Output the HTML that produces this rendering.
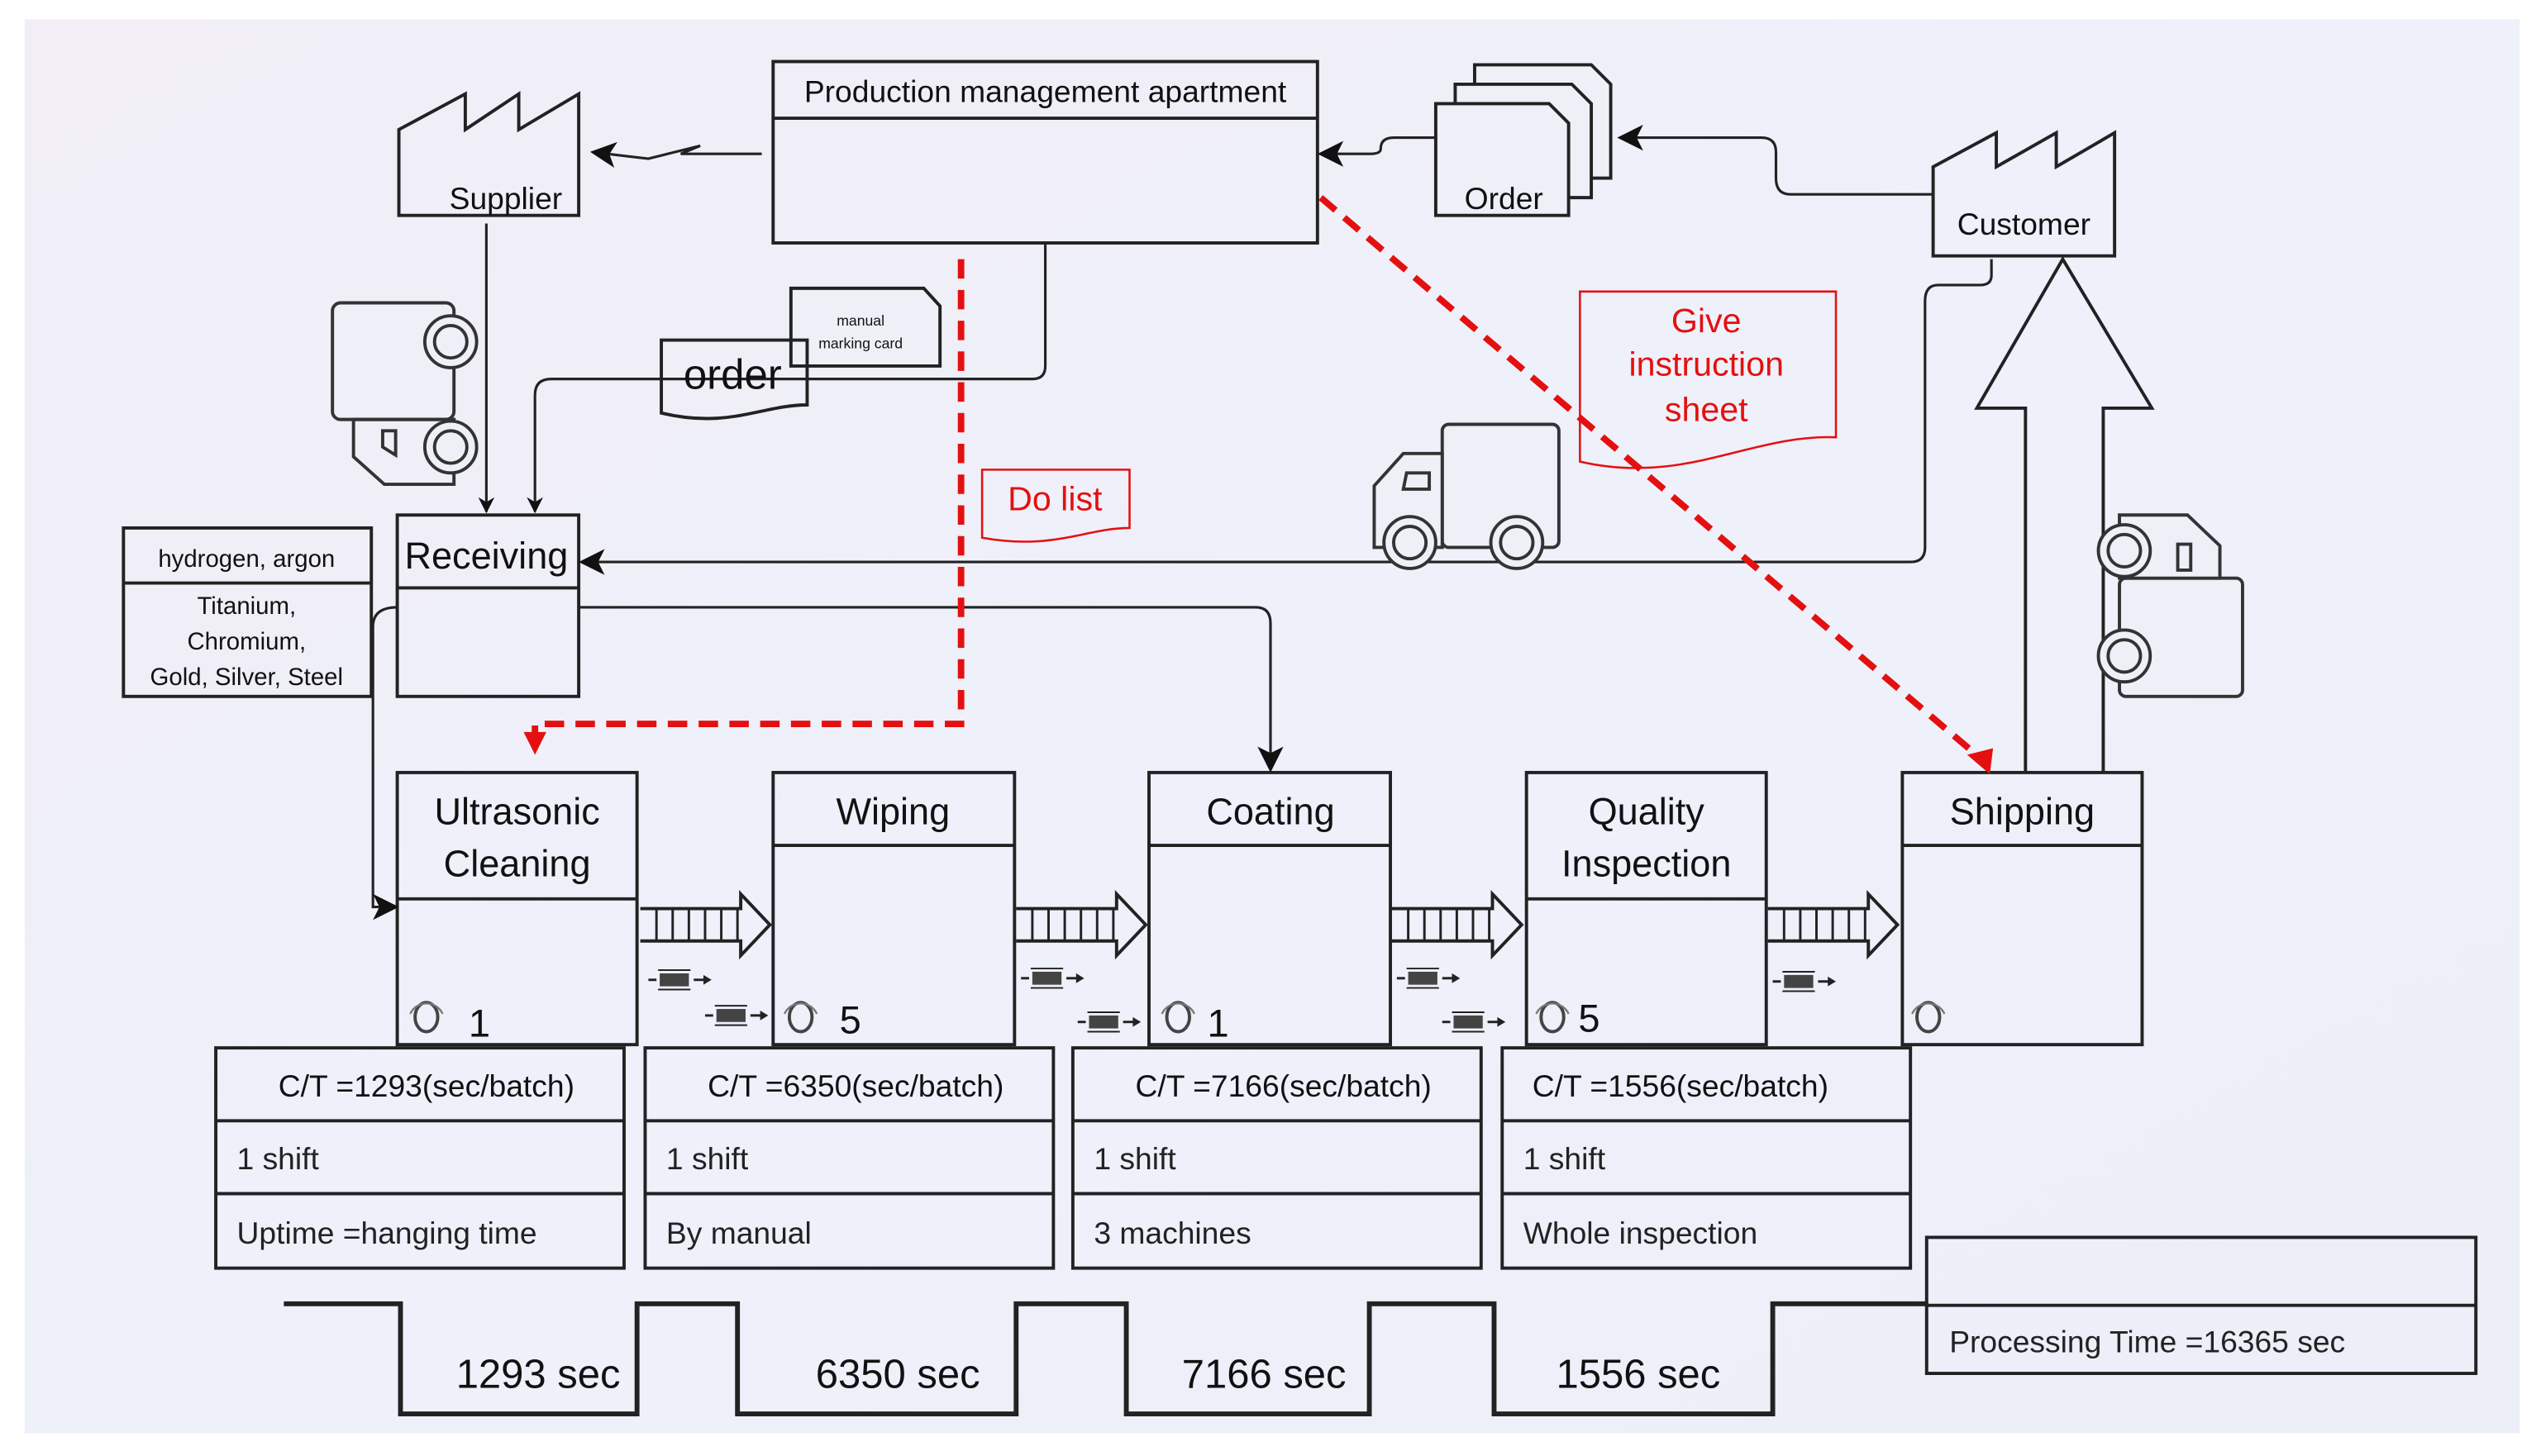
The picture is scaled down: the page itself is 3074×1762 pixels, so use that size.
<!DOCTYPE html>
<html><head><meta charset="utf-8"><style>
html,body{margin:0;padding:0;background:#fff;}
svg{display:block;}
text{font-family:"Liberation Sans",sans-serif;}
</style></head><body>
<svg width="3074" height="1762" viewBox="0 0 1568 899" xmlns="http://www.w3.org/2000/svg">
<defs>
<linearGradient id="bg" x1="0" y1="0" x2="1" y2="1">
<stop offset="0" stop-color="#f1eef6"/><stop offset="0.5" stop-color="#eef0fa"/><stop offset="1" stop-color="#eceef8"/></linearGradient>
<marker id="ah" markerWidth="10" markerHeight="10" refX="9" refY="5" orient="auto" markerUnits="userSpaceOnUse"><path d="M0,0 L10,5 L0,10 L3,5 Z" fill="#111"/></marker>
<marker id="ahb" markerWidth="16" markerHeight="16" refX="14" refY="8" orient="auto" markerUnits="userSpaceOnUse"><path d="M0,0 L16,8 L0,16 L4,8 Z" fill="#111"/></marker>
<g id="pa">
<path d="M0,0 L62,0 L62,-9 L80,10 L62,29 L62,20 L0,20" fill="none" stroke="#222" stroke-width="2"/>
<path d="M10,0 V20 M20,0 V20 M30,0 V20 M40,0 V20 M50,0 V20 M60,0 V20" fill="none" stroke="#222" stroke-width="1.5"/>
</g>
<g id="ff">
<line x1="0" y1="0" x2="5" y2="0" stroke="#222" stroke-width="1.5"/>
<rect x="7" y="-4" width="18" height="8" fill="#444"/>
<line x1="6" y1="-6" x2="26" y2="-6" stroke="#222" stroke-width="1"/>
<line x1="6" y1="6" x2="26" y2="6" stroke="#222" stroke-width="1"/>
<line x1="28" y1="0" x2="36" y2="0" stroke="#222" stroke-width="1.5"/>
<path d="M34,-3 L39,0 L34,3 Z" fill="#222"/>
</g>
<g id="op">
<ellipse cx="0" cy="4" rx="7" ry="9" fill="none" stroke="#444" stroke-width="2"/>
<path d="M-10,2 A11,11 0 0 1 10,2" fill="none" stroke="#777" stroke-width="1.2"/>
</g>
</defs>
<rect x="0" y="0" width="1568" height="899" fill="#fff"/>
<rect x="15" y="12" width="1540" height="873" fill="url(#bg)"/>
<g fill="none" stroke="#222" stroke-width="2">
<rect x="477" y="38" width="336" height="112"/><line x1="477" y1="73" x2="813" y2="73"/>
<path d="M246,133 L246,80 L287,58 L287,80 L320,58 L320,80 L357,58 L357,133 Z"/>
<path d="M1193,158 L1193,103 L1232,82 L1232,103 L1269,82 L1269,103 L1305,82 L1305,158 Z"/>
<path d="M910,40 L982,40 L994,52 L994,110 L910,110 Z" fill="#eef0f8"/>
<path d="M898,52 L970,52 L982,64 L982,122 L898,122 Z" fill="#eef0f8"/>
<path d="M886,64 L956,64 L968,76 L968,133 L886,133 Z" fill="#eef0f8"/>
<rect x="245" y="318" width="112" height="112"/><line x1="245" y1="363" x2="357" y2="363"/>
<rect x="76" y="326" width="153" height="104"/><line x1="76" y1="360" x2="229" y2="360"/>
<rect x="245" y="477" width="148" height="168"/><line x1="245" y1="555" x2="393" y2="555"/>
<rect x="477" y="477" width="149" height="168"/><line x1="477" y1="522" x2="626" y2="522"/>
<rect x="709" y="477" width="149" height="168"/><line x1="709" y1="522" x2="858" y2="522"/>
<rect x="942" y="477" width="148" height="168"/><line x1="942" y1="555" x2="1090" y2="555"/>
<rect x="1174" y="477" width="148" height="168"/><line x1="1174" y1="522" x2="1322" y2="522"/>
<rect x="133" y="647" width="252" height="136"/><line x1="133" y1="692" x2="385" y2="692"/><line x1="133" y1="737" x2="385" y2="737"/>
<rect x="398" y="647" width="252" height="136"/><line x1="398" y1="692" x2="650" y2="692"/><line x1="398" y1="737" x2="650" y2="737"/>
<rect x="662" y="647" width="252" height="136"/><line x1="662" y1="692" x2="914" y2="692"/><line x1="662" y1="737" x2="914" y2="737"/>
<rect x="927" y="647" width="252" height="136"/><line x1="927" y1="692" x2="1179" y2="692"/><line x1="927" y1="737" x2="1179" y2="737"/>
<rect x="1189" y="764" width="339" height="84"/><line x1="1189" y1="806" x2="1528" y2="806"/>
<polyline stroke-width="3" points="175,805 247,805 247,873 393,873 393,805 455,805 455,873 627,873 627,805 695,805 695,873 845,873 845,805 922,805 922,873 1094,873 1094,805 1190,805"/>
<path d="M1250,477 L1250,252 L1220,252 L1273,160 L1328,252 L1298,252 L1298,477"/>
<path d="M488,178 L570,178 L580,189 L580,226 L488,226 Z" fill="#eef0f8"/>
<path d="M408,210 L498,210 L498,250 C470,250 450,265 408,255 Z"/>
</g>
<g fill="none" stroke="#222" stroke-width="1.6">
<line x1="300" y1="138" x2="300" y2="316" marker-end="url(#ah)"/>
<path d="M645,150 L645,226 Q645,234 637,234 L340,234 Q330,234 330,244 L330,316" marker-end="url(#ah)"/>
<path d="M470,95 L420,95 L432,90 L400,98 L366,94" marker-end="url(#ahb)"/>
<path d="M886,85 L860,85 Q852,85 852,92 Q852,95 845,95 L815,95" marker-end="url(#ahb)"/>
<path d="M1193,120 L1105,120 Q1096,120 1096,110 L1096,94 Q1096,85 1087,85 L1000,85" marker-end="url(#ahb)"/>
<path d="M1229,160 L1229,170 Q1229,176 1222,176 L1196,176 Q1188,176 1188,186 L1188,338 Q1188,347 1179,347 L359,347" marker-end="url(#ahb)"/>
<path d="M357,375 L775,375 Q784,375 784,385 L784,475" marker-end="url(#ahb)"/>
<path d="M245,375 Q230,375 230,387 L230,560 L244,560" marker-end="url(#ahb)"/>
</g>
<g fill="none" stroke="#e41010" stroke-width="4" stroke-dasharray="12,7">
<path d="M593,160 L593,447 L330,447 L330,458"/>
<line x1="815" y1="122" x2="1222" y2="468"/>
</g>
<path d="M323,452 L337,452 L330,466 Z" fill="#e41010"/>
<path d="M1214,466 L1230,462 L1228,478 Z" fill="#e41010"/>
<g fill="none" stroke="#e41010" stroke-width="1.3">
<path d="M606,290 L697,290 L697,326 C670,326 650,340 606,332 Z"/>
<path d="M975,180 L1133,180 L1133,270 C1080,268 1040,300 975,285 Z"/>
</g>
<g fill="none" stroke="#333" stroke-width="2">
<rect x="205" y="187" width="75" height="72" rx="5" fill="#eef0f8"/>
<path d="M218,259 L218,282 L237,299 L280,299 L280,259 Z"/>
<path d="M236,266 L244,266 L244,281 L236,276 Z"/>
<circle cx="278" cy="211" r="16" fill="#eef0f8"/><circle cx="278" cy="211" r="10"/>
<circle cx="278" cy="276" r="16" fill="#eef0f8"/><circle cx="278" cy="276" r="10"/>
<rect x="890" y="262" width="72" height="76" rx="4" fill="#eef0f8"/>
<path d="M890,280 L866,280 L848,300 L848,338 L890,338 Z" fill="#eef0f8"/>
<path d="M868,292 L882,292 L882,302 L866,302 Z"/>
<circle cx="870" cy="335" r="16" fill="#eef0f8"/><circle cx="870" cy="335" r="10"/>
<circle cx="936" cy="335" r="16" fill="#eef0f8"/><circle cx="936" cy="335" r="10"/>
<rect x="1308" y="357" width="76" height="73" rx="4" fill="#eef0f8"/>
<path d="M1308,357 L1308,318 L1350,318 L1370,337 L1370,357 Z" fill="#eef0f8"/>
<path d="M1344,336 L1352,336 L1352,352 L1344,352 Z"/>
<circle cx="1311" cy="340" r="16" fill="#eef0f8"/><circle cx="1311" cy="340" r="10"/>
<circle cx="1311" cy="405" r="16" fill="#eef0f8"/><circle cx="1311" cy="405" r="10"/>
</g>
<use href="#pa" x="395" y="561"/><use href="#pa" x="627" y="561"/><use href="#pa" x="859" y="561"/><use href="#pa" x="1091" y="561"/>
<use href="#ff" x="400" y="605"/><use href="#ff" x="435" y="627"/>
<use href="#ff" x="630" y="604"/><use href="#ff" x="665" y="631"/>
<use href="#ff" x="862" y="604"/><use href="#ff" x="890" y="631"/>
<use href="#ff" x="1094" y="606"/>
<use href="#op" x="263" y="624"/><use href="#op" x="494" y="624"/><use href="#op" x="727" y="624"/><use href="#op" x="958" y="624"/><use href="#op" x="1190" y="624"/>
<g fill="#111" text-anchor="middle">
<text x="645" y="63" font-size="19">Production management  apartment</text>
<text x="312" y="129" font-size="19">Supplier</text>
<text x="928" y="129" font-size="19">Order</text>
<text x="1249" y="145" font-size="19">Customer</text>
<text x="300" y="351" font-size="23">Receiving</text>
<text x="152" y="350" font-size="15">hydrogen, argon</text>
<text x="152" y="379" font-size="15">Titanium,</text>
<text x="152" y="401" font-size="15">Chromium,</text>
<text x="152" y="423" font-size="15">Gold, Silver, Steel</text>
<text x="531" y="201" font-size="9">manual</text>
<text x="531" y="215" font-size="9">marking card</text>
<text x="452" y="240" font-size="26">order</text>
<text x="319" y="509" font-size="23">Ultrasonic</text>
<text x="319" y="541" font-size="23">Cleaning</text>
<text x="551" y="509" font-size="23">Wiping</text>
<text x="784" y="509" font-size="23">Coating</text>
<text x="1016" y="509" font-size="23">Quality</text>
<text x="1016" y="541" font-size="23">Inspection</text>
<text x="1248" y="509" font-size="23">Shipping</text>
<text x="263" y="677" font-size="19">C/T =1293(sec/batch)</text>
<text x="528" y="677" font-size="19">C/T =6350(sec/batch)</text>
<text x="792" y="677" font-size="19">C/T =7166(sec/batch)</text>
<text x="1037" y="677" font-size="19">C/T =1556(sec/batch)</text>
<text x="332" y="857" font-size="25">1293 sec</text>
<text x="554" y="857" font-size="25">6350 sec</text>
<text x="780" y="857" font-size="25">7166 sec</text>
<text x="1011" y="857" font-size="25">1556 sec</text>
</g>
<g fill="#111" font-size="24"><text x="289" y="640">1</text><text x="518" y="638">5</text><text x="745" y="640">1</text><text x="974" y="637">5</text></g>
<g fill="#222" font-size="19">
<text x="146" y="722">1 shift</text><text x="411" y="722">1 shift</text><text x="675" y="722">1 shift</text><text x="940" y="722">1 shift</text>
<text x="146" y="768">Uptime =hanging time</text><text x="411" y="768">By manual</text><text x="675" y="768">3 machines</text><text x="940" y="768">Whole inspection</text>
<text x="1203" y="835">Processing Time =16365 sec</text>
</g>
<g fill="#e41010" text-anchor="middle" font-size="21">
<text x="651" y="315">Do list</text>
<text x="1053" y="205">Give</text><text x="1053" y="232">instruction</text><text x="1053" y="260">sheet</text>
</g>
</svg>
</body></html>
